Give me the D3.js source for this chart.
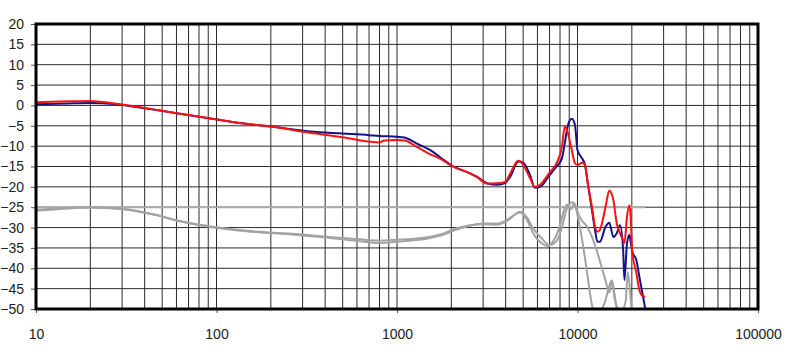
<!DOCTYPE html>
<html>
<head>
<meta charset="utf-8">
<script src="https://cdn.jsdelivr.net/npm/d3@7"></script>
<style>
  body { margin: 0; background: #fff; }
  .axis text { font-family: "Liberation Sans", Arial, sans-serif; font-size: 14px; fill: #222; }
  .axis line { stroke: #555; }
  .axis path { display: none; }
</style>
</head>
<body>
<div id="chart"></div>
<script>
// frequency response, left / right channel (dB vs Hz)
var freqBlue = [10, 15, 20, 27, 40, 60, 87, 128, 200, 330, 500, 700, 800, 1000, 1100, 1280, 1530, 1720, 2030, 2540, 2770, 3160, 3600, 3980, 4240, 4700, 5010, 5460, 5800, 6200, 7000, 7660, 8200, 8500, 8860, 9300, 9680, 10000, 10600, 11000, 11400, 12100, 12500, 12900, 13300, 14300, 15000, 15800, 16500, 17200, 17900, 18200, 18800, 19400, 19700, 20100, 21200, 22000, 22900, 23700];
var valBlue = [0.3, 0.5, 0.6, 0.35, -0.7, -1.9, -3.0, -4.2, -5.2, -6.4, -6.9, -7.3, -7.5, -7.7, -7.9, -9.3, -11, -12.6, -14.9, -16.7, -17.5, -19.1, -19.5, -19.0, -17.5, -13.8, -14.1, -17.1, -20.2, -20, -17.1, -15, -13, -9.3, -4.8, -3.3, -4.8, -11, -13, -14.6, -19.1, -26.5, -30.6, -33.5, -33.5, -29.8, -28.8, -32.3, -31.4, -29.4, -35.5, -42.9, -33.9, -31.8, -33.5, -35.9, -38, -42, -46.2, -49.8];

var freqRed = [10, 15, 20, 27, 40, 60, 87, 128, 200, 330, 500, 700, 800, 850, 1000, 1100, 1280, 1530, 1720, 2030, 2540, 2770, 3160, 3600, 3980, 4240, 4700, 5010, 5460, 5800, 6200, 7000, 7660, 8200, 8500, 8860, 9300, 9680, 10000, 10600, 11000, 11400, 12100, 12500, 12900, 13300, 14300, 15000, 15800, 16500, 17200, 17900, 18200, 18800, 19400, 19700, 20100, 21200, 22000, 22900, 23700];
var valRed = [0.8, 1.0, 1.1, 0.5, -0.6, -1.9, -3.0, -4.2, -5.2, -6.7, -7.8, -8.9, -9.1, -8.6, -8.5, -8.6, -10.1, -12, -13, -14.9, -16.7, -17.6, -19.2, -19.1, -18.8, -16.7, -13.6, -14.6, -17.9, -20, -19.5, -16.5, -14.2, -10.1, -5.2, -6.9, -11, -14.2, -14.6, -14.1, -14.6, -19.1, -25.7, -29.8, -31, -30.6, -24.9, -20.9, -23.2, -29, -31.4, -33.1, -33.8, -27.3, -24.5, -27.3, -35.9, -41.2, -45.3, -46.8, -47];

// lower pair (grey)
var freqGrey1 = [10, 15, 20, 30, 45, 63, 95, 147, 278, 390, 600, 800, 1000, 1200, 1500, 1800, 2100, 2500, 3000, 3600, 4100, 4800, 5300, 5600, 6300, 7000, 7600, 8200, 8700, 9000, 9400, 9800, 10300, 11300, 12400, 13500, 14300, 15000, 15500, 16000, 16700];
var valGrey1 = [-25.9, -25.3, -25.1, -25.5, -26.8, -28.4, -29.8, -30.8, -31.6, -32.2, -32.8, -33.2, -33.0, -32.8, -32.3, -31.5, -30.3, -29.5, -29.2, -29.3, -28.3, -26.1, -27.8, -29.8, -32.5, -34.3, -33.5, -30, -25.5, -24.3, -23.8, -25, -27.5, -29.8, -33.8, -39.2, -43, -46, -43, -47, -50.5];

var freqGrey2 = [10, 15, 20, 30, 45, 63, 95, 147, 278, 390, 600, 800, 1000, 1200, 1500, 1800, 2100, 2500, 3000, 3600, 4100, 4800, 5300, 5700, 6300, 6800, 7300, 8000, 8500, 8800, 9200, 9600, 10000, 10600, 11300, 11800, 12300, 13000, 14000, 15500, 16500, 17500, 18500, 19000, 19500, 20000];
var valGrey2 = [-25.6, -25.2, -25.0, -25.4, -26.8, -28.5, -29.9, -30.9, -31.8, -32.4, -33.3, -33.8, -33.5, -33.2, -32.6, -31.8, -30.6, -29.6, -29.0, -29.0, -28.0, -26.3, -28.5, -31.5, -33.8, -34.5, -33.5, -29.5, -25.2, -24.4, -25.5, -24.0, -27, -33, -41, -47, -50.5, -51, -49, -43, -49.5, -50.5, -48, -41, -45, -51];

// flat reference at -25 dB
var freqRef = [10, 23700];
var valRef = [-25, -25];

var yTicks = [20, 15, 10, 5, 0, -5, -10, -15, -20, -25, -30, -35, -40, -45, -50];
var xTicks = [10, 100, 1000, 10000, 100000];

var width = 798, height = 352;
var plotL = 36, plotR = 758, plotT = 24, plotB = 309;

var x = d3.scaleLog().domain([10, 100000]).range([plotL, plotR]);
var y = d3.scaleLinear().domain([-50, 20]).range([plotB, plotT]);

var svg = d3.select("#chart").append("svg")
    .attr("width", width)
    .attr("height", height);

svg.append("clipPath").attr("id", "plot")
  .append("rect")
    .attr("x", plotL).attr("y", plotT)
    .attr("width", plotR - plotL).attr("height", plotB - plotT);

// grid lines: every 1..9 per decade, every 5 dB
var minor = [];
[10, 100, 1000, 10000].forEach(function(d) {
    for (var k = 1; k < 10; k++) minor.push(d * k);
});
minor.push(100000);

var grid = svg.append("g");
grid.selectAll("line.v")
    .data(minor)
  .enter().append("line")
    .attr("class", "v")
    .attr("x1", function(d) { return x(d); })
    .attr("x2", function(d) { return x(d); })
    .attr("y1", plotT).attr("y2", plotB)
    .attr("stroke", "#2a2a2a")
    .attr("stroke-width", 1);

grid.selectAll("line.h")
    .data(yTicks)
  .enter().append("line")
    .attr("class", "h")
    .attr("x1", plotL).attr("x2", plotR)
    .attr("y1", function(d) { return y(d); })
    .attr("y2", function(d) { return y(d); })
    .attr("stroke", "#2a2a2a")
    .attr("stroke-width", 1);

var line = d3.line()
    .x(function(d) { return x(d[0]); })
    .y(function(d) { return y(d[1]); })
    .curve(d3.curveMonotoneX);

function series(f, v, color, w) {
    svg.append("path")
        .datum(d3.zip(f, v))
        .attr("clip-path", "url(#plot)")
        .attr("fill", "none")
        .attr("stroke", color)
        .attr("stroke-width", w)
        .attr("stroke-linejoin", "round")
        .attr("d", line);
}

series(freqRef, valRef, "#ababab", 2);
series(freqGrey1, valGrey1, "#a3a3a3", 2);
series(freqGrey2, valGrey2, "#a3a3a3", 2);
series(freqBlue, valBlue, "#12128a", 2);
series(freqRed, valRed, "#ff1010", 2);

// axes
svg.append("g")
    .attr("class", "axis")
    .attr("transform", "translate(" + plotL + ",0)")
    .call(d3.axisLeft(y).tickValues(yTicks).tickSize(5).tickPadding(7)
        .tickFormat(d3.format("d")));

svg.append("g")
    .attr("class", "axis")
    .attr("transform", "translate(0," + plotB + ")")
    .call(d3.axisBottom(x).tickValues(xTicks).tickSize(4).tickPadding(16)
        .tickFormat(d3.format("d")));

// plot frame
svg.append("rect")
    .attr("x", plotL).attr("y", plotT)
    .attr("width", plotR - plotL).attr("height", plotB - plotT)
    .attr("fill", "none")
    .attr("stroke", "#000")
    .attr("stroke-width", 3);
</script>
</body>
</html>
